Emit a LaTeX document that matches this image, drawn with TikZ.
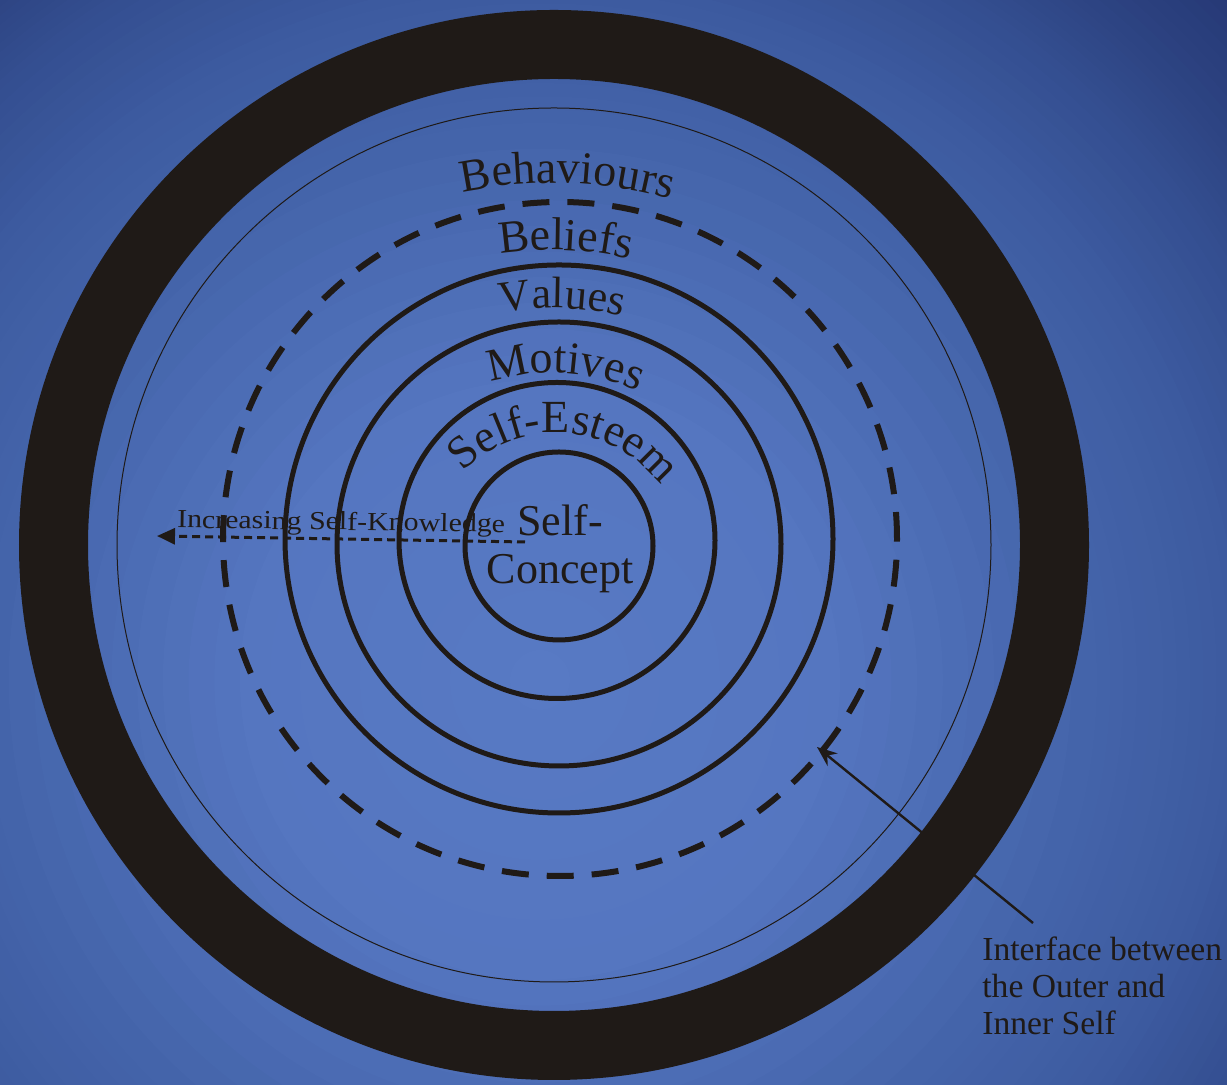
\documentclass[tikz,border=0pt]{standalone}
\usepackage{fontspec}
\setmainfont{Liberation Serif}
\usetikzlibrary{decorations.text,arrows.meta}
\definecolor{ink}{RGB}{31,26,23}
\definecolor{bgA}{RGB}{88,122,196}
\definecolor{bgB}{RGB}{85,118,192}
\definecolor{bgC}{RGB}{68,100,170}
\definecolor{bgD}{RGB}{61,91,160}
\definecolor{bgE}{RGB}{52,79,145}
\definecolor{bgF}{RGB}{46,69,132}
\definecolor{bgG}{RGB}{38,57,118}
\newcommand\lblfont{\fontsize{23pt}{23pt}\selectfont}
\newcommand\vlfont{\fontsize{22pt}{22pt}\selectfont}
\begin{document}
\begin{tikzpicture}[x=1pt,y=1pt,
  ring/.style={draw=ink,line width=2.5pt},
  dashring/.style={draw=ink,line width=3pt,dash pattern=on 13.5pt off 9pt},
  arclabel/.style={decorate,decoration={text along path,text align=center,text color=ink,text={|\lblfont|#1}}},
  arclabelsmall/.style={decorate,decoration={text along path,text align=center,text color=ink,text={|\vlfont|#1}}},
]
\useasboundingbox (0,0) rectangle (613.5,542.5);
\begin{scope}
\clip (0,0) rectangle (613.5,542.5);
\foreach \da/\db/\ca/\cb in {870/975/bgF/bgG, 800/870/bgE/bgF, 690/800/bgD/bgE, 557/690/bgC/bgD, 300/557/bgB/bgC, 0/300/bgA/bgB} {
  \foreach \i in {10,9,...,1} {
    \pgfmathsetmacro\rr{(\da+(\db-\da)*\i/10)/2}
    \pgfmathtruncatemacro\tt{\i*10}
    \fill[\cb!\tt!\ca] (270,202.5) circle[radius=\rr pt];
  }
}
\end{scope}
% rings
\draw[ink,line width=34.5pt] (277,270) circle[radius=250.25pt];
\draw[ink,line width=0.5pt] (277,270) circle[radius=218.5pt];
\draw[dashring] (280,273) circle[radius=168.5pt];
\draw[ring] (279.5,273) circle[radius=137pt];
\draw[ring] (279.5,270.5) circle[radius=111pt];
\draw[ring] (278.5,272.25) circle[radius=79pt];
\draw[ring] (279.5,269.5) circle[radius=47pt];
% curved labels
\path[arclabel=Behaviours] ([shift={(276,236)}]113:215pt) arc[start angle=113,end angle=63,radius=215pt];
\path[arclabel=Beliefs] ([shift={(276,252.5)}]107.7:165pt) arc[start angle=107.7,end angle=67.7,radius=165pt];
\path[arclabelsmall=Values] ([shift={(276,248.5)}]110:140pt) arc[start angle=110,end angle=66,radius=140pt];
\path[arclabel=Motives] ([shift={(276,253.5)}]118.4:102.5pt) arc[start angle=118.4,end angle=54.4,radius=102.5pt];
\path[arclabel=Self-Esteem] ([shift={(278,260.5)}]151.1:65.5pt) arc[start angle=151.1,end angle=21.1,radius=65.5pt];
% centre
\node[font=\fontsize{22pt}{24pt}\selectfont,align=center,text=ink,inner sep=0] (selfconcept) at (280,268) {Self-\\Concept};
% self-knowledge arrow
\node[font=\fontsize{13pt}{13pt}\selectfont,text=ink,inner sep=0,anchor=base,xscale=1.15,rotate=-0.9] (know) at (170.5,277.5) {Increasing Self-Knowledge};
\coordinate (kstart) at (262.5,271.5);
\coordinate (ktip) at (78.5,274.5);
\draw[ink,line width=1.5pt,dash pattern=on 4pt off 2.5pt,-{Triangle[length=9pt,width=8pt]}] (kstart) -- (ktip);
% interface
\node[font=\fontsize{16.8pt}{18.5pt}\selectfont,align=left,text=ink,inner sep=0,anchor=north west] (iface) at (491,74.25) {Interface between\\the Outer and\\Inner Self};
\coordinate (ifstart) at (516.5,81);
\coordinate (iftip) at (408.5,169);
\draw[ink,line width=1.2pt,-{Stealth[length=10pt,width=8pt]}] (ifstart) -- (iftip);
\end{tikzpicture}
\end{document}
